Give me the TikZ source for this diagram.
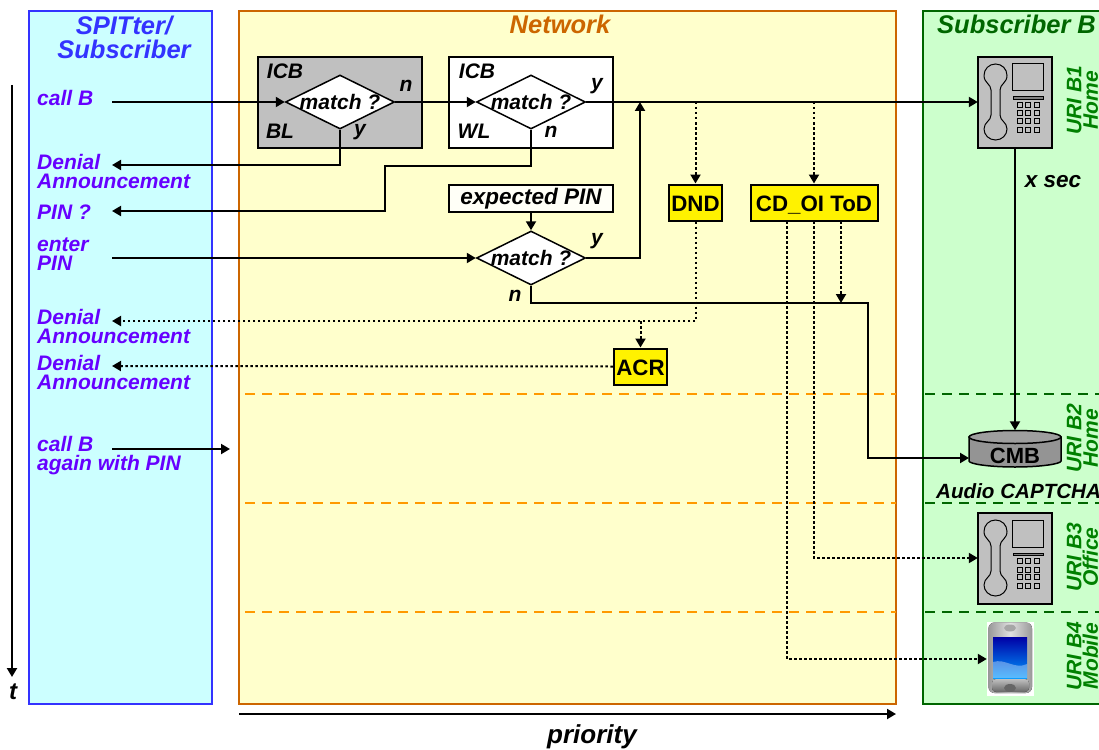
\documentclass[tikz,border=0pt]{standalone}
\usepackage{fontspec}
\setmainfont{Liberation Sans}
\usetikzlibrary{arrows.meta,shapes.geometric}
\definecolor{spitblue}{HTML}{3333FF}
\definecolor{spitfill}{HTML}{CCFFFF}
\definecolor{netline}{HTML}{CC6600}
\definecolor{netfill}{HTML}{FFFFCC}
\definecolor{subgreen}{HTML}{006600}
\definecolor{subfill}{HTML}{CCFFCC}
\definecolor{uri}{HTML}{008000}
\definecolor{callviolet}{HTML}{6600FF}
\definecolor{dashorange}{HTML}{FF9900}
\definecolor{boxgray}{HTML}{C0C0C0}
\tikzset{
  bi/.style={font=\fontsize{21}{19}\selectfont\bfseries\itshape,inner sep=0pt},
  title/.style={font=\fontsize{25.5}{24}\selectfont\bfseries\itshape,inner sep=0pt,align=center},
  panel/.style={draw,line width=2pt},
  icbbox/.style={draw,line width=2pt,minimum width=163.5,minimum height=90,inner sep=0pt},
  matchbox/.style={diamond,draw,fill=white,line width=1.5pt,minimum width=109,minimum height=54,inner sep=0pt,bi},
  yellowbox/.style={draw,fill=yellow,line width=2pt,inner sep=0pt,minimum height=36,text height=20pt,text depth=2pt,font=\fontsize{22.3}{22}\selectfont\bfseries},
  call/.style={bi,text=callviolet,anchor=west,align=left},
  urilabel/.style={font=\fontsize{21}{16.5}\selectfont\bfseries\itshape,inner sep=0pt,text=uri,rotate=90,align=center},
  flow/.style={line width=2pt,-{Triangle[length=9pt,width=10pt]}},
  dotflow/.style={line width=2pt,dash pattern=on 2.5pt off 2.5pt,-{Triangle[length=9pt,width=10pt]}},
  sepnet/.style={dashorange,line width=2pt,dash pattern=on 10pt off 7pt},
  sepsub/.style={subgreen,line width=2pt,dash pattern=on 10pt off 7pt},
  phone/.pic={
    \fill[boxgray] (0,0) rectangle (74,91);
    \draw[line width=1pt] (13,33) .. controls (13,27) and (6,26) .. (6,18.5)
      .. controls (6,12) and (11,7) .. (17.5,7) .. controls (24,7) and (29,12) .. (29,18.5)
      .. controls (29,26) and (22,27) .. (22,33) -- (22,58)
      .. controls (22,64) and (29,65) .. (29,72) .. controls (29,78) and (24,83) .. (17.5,83)
      .. controls (11,83) and (6,78) .. (6,72) .. controls (6,65) and (13,64) .. (13,58) -- cycle;
    \draw[line width=1pt] (34,7) rectangle (65,34);
    \draw[line width=1pt,fill=gray] (35,40) rectangle (65,42.5);
    \foreach \kx in {39,47.5,56.5}
      \foreach \ky in {45.5,54,61.5,70}
        \draw[line width=1pt] (\kx,\ky) rectangle +(5,5);
    \draw[line width=1.5pt] (0,0) rectangle (74,91);
  },
}
\begin{document}
\begin{tikzpicture}[x=1pt,y=-1pt]
  \useasboundingbox (0,0) rectangle (1099,749);
  \clip (0,0) rectangle (1099,749);

  % panels
  \draw[panel,spitblue,fill=spitfill] (29,11) rectangle (212,704);
  \draw[panel,netline,fill=netfill] (239,11) rectangle (896,704);
  \draw[panel,subgreen,fill=subfill] (923,11) rectangle (1120,704);
  \node[title,text=spitblue] (spitter) at (124,37.5) {SPITter/\\Subscriber};
  \node[title,text=netline] (network) at (560,24) {Network};
  \node[title,text=subgreen,anchor=west] (subscriber) at (937,24) {Subscriber B};

  % separators
  \foreach \y in {394,503,612} {
    \draw[sepnet] (245,\y) -- (896,\y);
    \draw[sepsub] (925,\y) -- (1099,\y);
  }

  % time and priority
  \coordinate (tstart) at (12,85);
  \coordinate (tend) at (12,677);
  \coordinate (pstart) at (239,714);
  \coordinate (pend) at (896,714);
  \draw[flow] (tstart) -- (tend);
  \draw[flow] (pstart) -- (pend);
  \node[bi,font=\fontsize{24}{24}\selectfont\bfseries\itshape] (t) at (13,692) {t};
  \node[bi,font=\fontsize{26}{26}\selectfont\bfseries\itshape] (priority) at (592,737) {priority};

  % screening boxes
  \node[icbbox,fill=boxgray] (icbb) at (339.75,102.5) {};
  \node[icbbox,fill=white] (icbw) at (531,102.5) {};
  \node[draw,line width=2pt,fill=white!85!netfill,minimum width=163.5,minimum height=27,inner sep=0pt,
    font=\fontsize{22.5}{22}\selectfont\bfseries\itshape] (pin) at (531,198.5) {expected PIN};
  \node[bi] at (285,71) {ICB};
  \node[bi] at (280,131) {BL};
  \node[bi] at (477,71) {ICB};
  \node[bi] at (474,131) {WL};
  \node[matchbox] (m1) at (340,102) {\makebox[0pt]{match ?}};
  \node[matchbox] (m2) at (531,102) {\makebox[0pt]{match ?}};
  \node[matchbox] (m3) at (531,258) {\makebox[0pt]{match ?}};
  \node[bi] at (406,86) {n};
  \node[bi] at (360,132) {y};
  \node[bi] at (597,86) {y};
  \node[bi] at (551,132) {n};
  \node[bi] at (597,241) {y};
  \node[bi] at (515,296) {n};

  % services
  \node[yellowbox,minimum width=53.5] (dnd) at (695.5,202.5) {DND};
  \node[yellowbox,minimum width=127] (cd) at (814,202.5) {CD\_OI ToD};
  \node[yellowbox,minimum width=53.5] (acr) at (640.5,366.5) {ACR};
  \draw[line width=1.5pt,fill=black!42] (969,437) -- (969,461) .. controls (969,464) and (990,467) .. (1015,467)
    .. controls (1040,467) and (1061,464) .. (1061,461) -- (1061,437) -- cycle;
  \draw[line width=1.5pt,fill=black!38] (1015,437) ellipse (46 and 6.5);
  \node[inner sep=0pt,minimum width=92,minimum height=37] (cmb) at (1015,449) {};
  \node[inner sep=0pt,font=\fontsize{22}{22}\selectfont\bfseries] (cmbtext) at (1015,455.5) {CMB};

  % terminals
  \pic at (978,57) {phone};
  \pic at (978,513) {phone};
  \node[minimum width=74,minimum height=91,inner sep=0pt] (b1) at (1015,102) {};
  \node[minimum width=74,minimum height=91,inner sep=0pt] (b3) at (1015,558) {};
  \node[fill=white,minimum width=47,minimum height=74,inner sep=0pt] (b4) at (1010.5,659) {};
  \fill[left color=black!40,right color=black!40,middle color=black!12,rounded corners=6pt] (988.5,622.5) rectangle (1032,693);
  \fill[top color=black!25,bottom color=black!60,rounded corners=4pt] (992,679) rectangle (1029,692);
  \shade[top color=blue!65!black,bottom color=cyan!60!blue] (993,637) rectangle (1027,678);
  \fill[white,opacity=.35] (993,662) .. controls (1005,658) and (1015,670) .. (1027,664) -- (1027,678) -- (993,678) -- cycle;
  \fill[black!35] (1010,628) ellipse (6 and 3.5);
  \fill[black!60] (1010,688) ellipse (6 and 4);

  % labels of the caller
  \node[call] (callb) at (37,98) {call B};
  \node[call] (denial1) at (37,171.5) {Denial\\Announcement};
  \node[call] (pinq) at (37,212) {PIN ?};
  \node[call] (enterpin) at (37,254) {enter\\PIN};
  \node[call] (denial2) at (37,326.5) {Denial\\Announcement};
  \node[call] (denial3) at (37,372.5) {Denial\\Announcement};
  \node[call] (again) at (37,456) {call B\\again with PIN};

  % labels of the subscriber
  \node[urilabel] (u1) at (1082.5,100) {URI B1\\Home};
  \node[urilabel] (u2) at (1082.5,438) {URI B2\\Home};
  \node[urilabel] (u3) at (1082.5,557) {URI B3\\Office};
  \node[urilabel] (u4) at (1082.5,656) {URI B4\\Mobile};
  \node[bi,font=\fontsize{22.5}{22}\selectfont\bfseries\itshape] (xsec) at (1053,182) {x sec};
  \node[bi,font=\fontsize{20.6}{20}\selectfont\bfseries\itshape,anchor=west] (captcha) at (936,491) {Audio CAPTCHA};

  % free ends of the flows
  \coordinate (c1) at (112,102);
  \coordinate (c2) at (112,165);
  \coordinate (c3) at (112,211);
  \coordinate (c4) at (112,258);
  \coordinate (c5) at (112,321);
  \coordinate (c6) at (112,366);
  \coordinate (c7) at (112,449);
  \coordinate (c8) at (230,449);
  \coordinate (cmbin) at (969,458);
  \coordinate (join) at (841,303);
  \coordinate (tapdnd) at (695.5,102);
  \coordinate (tapcd) at (814,102);
  \coordinate (tapacr) at (640.5,321);
  \coordinate (cdl) at (787,221);
  \coordinate (cdm) at (814,221);
  \coordinate (cdr) at (841,221);

  % solid flows
  \draw[flow] (c1) -- (m1.west);
  \draw[flow] (m1.east) -- (m2.west);
  \draw[flow] (m2.east) -- (b1.west);
  \draw[flow] (m1.south) |- (c2);
  \draw[flow] (m2.south) -- (531,166) -- (385,166) -- (385,211) -- (c3);
  \draw[flow] (pin.south) -- (m3.north);
  \draw[flow] (c4) -- (m3.west);
  \draw[flow] (m3.east) -- (640,258) -- (640,102);
  \draw[flow] (m3.south) -- (531,303) -- (868,303) -- (868,458) -- (cmbin);
  \draw[flow] (b1.south) -- (cmb.north);
  \draw[flow] (c7) -- (c8);

  % dotted flows
  \draw[dotflow] (tapdnd) -- (dnd.north);
  \draw[dotflow] (tapcd) -- (cd.north);
  \draw[dotflow] (dnd.south) |- (c5);
  \draw[dotflow] (tapacr) -- (acr.north);
  \draw[dotflow] (acr.west) -- (c6);
  \draw[dotflow] (cdr) -- (join);
  \draw[dotflow] (cdm) |- (b3.west);
  \draw[dotflow] (cdl) |- (b4.west);
\end{tikzpicture}
\end{document}
